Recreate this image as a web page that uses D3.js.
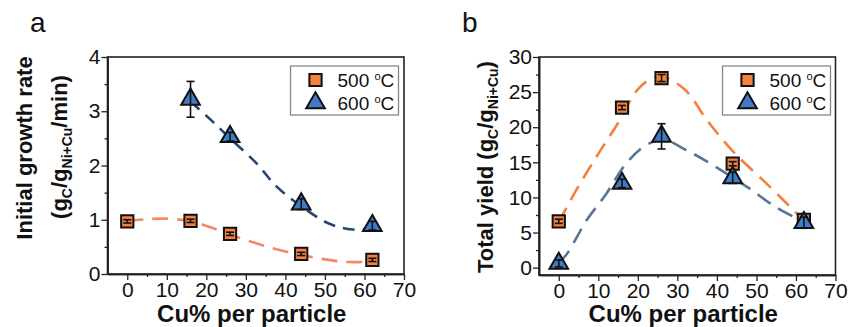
<!DOCTYPE html>
<html>
<head>
<meta charset="utf-8">
<script src="https://cdn.jsdelivr.net/npm/d3@7"></script>
<style>
  body { margin: 0; background: #fff; }
  text { font-family: "Liberation Sans", Arial, sans-serif; fill: #111; }
</style>
</head>
<body>
<svg id="chart" width="848" height="327"></svg>
<script>
// Data
const cuPct = [0, 16, 26, 44, 62];
const cuPct600a = [16, 26, 44, 62];

// panel a: initial growth rate
const rate500 = [0.97, 0.98, 0.74, 0.37, 0.26];
const rate500Err = [0.03, 0.03, 0.03, 0.03, 0.03];
const rate600 = [3.22, 2.53, 1.29, 0.89];
const rate600Err = [0.33, 0.08, 0.1, 0.08];
const rateFit500 = [[0, 0.98], [5, 1.01], [10, 1.02], [16, 0.97], [21, 0.86], [26, 0.73], [32, 0.58], [38, 0.45], [44, 0.35], [50, 0.27], [56, 0.22], [62, 0.23]];
const rateFit600 = [[16, 3.18], [21, 2.85], [26, 2.5], [32.7, 2.04], [37.8, 1.61], [44, 1.25], [51, 0.93], [57, 0.82], [62, 0.84]];

// panel b: total yield
const yield500 = [6.6, 22.8, 27.0, 14.8, 6.8];
const yield500Err = [0.3, 0.3, 0.5, 0.3, 0.3];
const yield600 = [0.6, 12.0, 18.7, 12.8, 6.4];
const yield600Err = [0.5, 0.6, 1.8, 0.8, 0.8];
const yieldFit500 = [[0, 6.5], [5, 11.6], [10, 16.2], [15, 20.6], [20, 25.4], [24, 27.1], [26, 27.3], [32, 25.3], [37.5, 21], [44, 16.6], [52.7, 11.9], [59.5, 8.1], [62, 6.7]];
const yieldFit600 = [[0, 0.7], [2, 1.9], [7, 6.7], [12, 10.5], [17, 14.8], [22, 17.4], [26.5, 18.2], [32.4, 16.7], [39, 14.6], [47.6, 11.5], [55, 8.6], [62, 6.5]];

const xTicks = [0, 10, 20, 30, 40, 50, 60, 70];
const xMinor = [5, 15, 25, 35, 45, 55, 65];
const yTicksA = [0, 1, 2, 3, 4];
const yMinorA = [0.5, 1.5, 2.5, 3.5];
const yTicksB = [0, 5, 10, 15, 20, 25, 30];
const yMinorB = [2.5, 7.5, 12.5, 17.5, 22.5, 27.5];
const legendLabels = ["500 ", "600 "];

const ORANGE = "#f4813f";
const BLUE = "#3f7cc6";

const svg = d3.select("#chart");

function drawPanel(opt) {
  const x = d3.scaleLinear().domain([-5, 70]).range([opt.left, opt.right]);
  const y = d3.scaleLinear().domain(opt.yDomain).range([opt.bottom, opt.top]);
  const g = svg.append("g");

  // frame
  g.append("rect")
    .attr("x", opt.left).attr("y", opt.top)
    .attr("width", opt.right - opt.left).attr("height", opt.bottom - opt.top)
    .attr("fill", "none").attr("stroke", "#222").attr("stroke-width", 1.6);

  // axes
  g.append("g").attr("transform", `translate(0,${opt.bottom})`)
    .call(d3.axisBottom(x).tickValues(xTicks).tickSize(6).tickSizeOuter(0).tickPadding(2).tickFormat(d3.format("d")));
  g.append("g").attr("transform", `translate(0,${opt.bottom})`)
    .call(d3.axisBottom(x).tickValues(xMinor).tickSize(3).tickSizeOuter(0).tickFormat(""));
  g.append("g").attr("transform", `translate(${opt.left},0)`)
    .call(d3.axisLeft(y).tickValues(opt.yTicks).tickSize(6).tickSizeOuter(0).tickPadding(1).tickFormat(d3.format("d")));
  g.append("g").attr("transform", `translate(${opt.left},0)`)
    .call(d3.axisLeft(y).tickValues(opt.yMinor).tickSize(3).tickSizeOuter(0).tickFormat(""));

  g.selectAll(".domain").attr("stroke", "#222").attr("stroke-width", 1.6);
  g.selectAll(".tick line").attr("stroke", "#222").attr("stroke-width", 1.3);
  g.selectAll(".tick text").attr("font-size", 21).attr("fill", "#1a1a1a")
    .style("font-family", "'Liberation Sans', Arial, sans-serif");

  // fitted dashed curves
  const line = d3.line().x(d => x(d[0])).y(d => y(d[1])).curve(d3.curveCatmullRom);
  g.append("path").datum(opt.fit500).attr("d", line)
    .attr("fill", "none").attr("stroke", opt.c500).attr("stroke-width", 2.6)
    .attr("stroke-dasharray", "16,9");
  g.append("path").datum(opt.fit600).attr("d", line)
    .attr("fill", "none").attr("stroke", opt.c600).attr("stroke-width", 2.6)
    .attr("stroke-dasharray", opt.dash600);

  // error bars + markers
  function errBars(xs, ys, es) {
    const eb = g.append("g").selectAll("g").data(xs).enter().append("g");
    eb.append("line")
      .attr("x1", (d) => x(d)).attr("x2", (d) => x(d))
      .attr("y1", (d, i) => y(ys[i] - es[i])).attr("y2", (d, i) => y(ys[i] + es[i]))
      .attr("stroke", "#111").attr("stroke-width", 1.6);
    [-1, 1].forEach(s => {
      eb.append("line")
        .attr("x1", (d) => x(d) - 4).attr("x2", (d) => x(d) + 4)
        .attr("y1", (d, i) => y(ys[i] + s * es[i])).attr("y2", (d, i) => y(ys[i] + s * es[i]))
        .attr("stroke", "#111").attr("stroke-width", 1.6);
    });
  }

  const sq = d3.symbol().type(d3.symbolSquare).size(150);
  const tri = d3.symbol().type(d3.symbolTriangle).size(150);

  g.append("g").selectAll("path").data(opt.x500).enter().append("path")
    .attr("d", sq)
    .attr("transform", (d, i) => `translate(${x(d)},${y(opt.y500[i])})`)
    .attr("fill", ORANGE).attr("stroke", "#111").attr("stroke-width", 2);
  errBars(opt.x500, opt.y500, opt.e500);

  g.append("g").selectAll("path").data(opt.x600).enter().append("path")
    .attr("d", tri)
    .attr("transform", (d, i) => `translate(${x(d)},${y(opt.y600[i])})`)
    .attr("fill", BLUE).attr("stroke", "#111").attr("stroke-width", 2);
  errBars(opt.x600, opt.y600, opt.e600);

  // legend
  const lg = g.append("g").attr("transform", `translate(${opt.legX},66)`);
  lg.append("rect").attr("width", 108).attr("height", 49)
    .attr("fill", "#fff").attr("stroke", "#888").attr("stroke-width", 1.3);
  lg.append("path").attr("d", sq).attr("transform", "translate(25,14)")
    .attr("fill", ORANGE).attr("stroke", "#111").attr("stroke-width", 2);
  lg.append("path").attr("d", tri).attr("transform", "translate(25,37)")
    .attr("fill", BLUE).attr("stroke", "#111").attr("stroke-width", 2);
  legendLabels.forEach((lab, i) => {
    const t = lg.append("text").attr("x", 47).attr("y", 21 + i * 23).attr("font-size", 19);
    t.append("tspan").text(lab);
    t.append("tspan").attr("font-size", 11).attr("dy", -7).text("o");
    t.append("tspan").attr("dy", 7).text("C");
  });

  // x label
  g.append("text")
    .attr("x", (opt.left + opt.right) / 2 - 4).attr("y", 322)
    .attr("text-anchor", "middle").attr("font-size", 24).attr("font-weight", "bold")
    .text("Cu% per particle");

  // panel letter
  g.append("text").attr("x", opt.letterX).attr("y", 32)
    .attr("font-size", 28).text(opt.letter);
}

// text with subscripts: the shift is carried by the next tspan
function subText(sel, parts, size, subSize) {
  let shift = 0;
  parts.forEach(p => {
    const isSub = !!p.sub;
    const want = isSub ? 5 : 0;
    sel.append("tspan")
      .attr("font-size", isSub ? subSize : size)
      .attr("dy", want - shift)
      .text(isSub ? p.sub : p.t);
    shift = want;
  });
}

drawPanel({
  left: 107.5, right: 404, top: 57, bottom: 274,
  yDomain: [0, 4], yTicks: yTicksA, yMinor: yMinorA,
  x500: cuPct, y500: rate500, e500: rate500Err,
  x600: cuPct600a, y600: rate600, e600: rate600Err,
  fit500: rateFit500, fit600: rateFit600,
  c500: "#f08a62", c600: "#26466e", dash600: "12,8",
  legX: 290.5, letter: "a", letterX: 30
});

drawPanel({
  left: 539, right: 835.5, top: 57, bottom: 275,
  yDomain: [-1.05, 30], yTicks: yTicksB, yMinor: yMinorB,
  x500: cuPct, y500: yield500, e500: yield500Err,
  x600: cuPct, y600: yield600, e600: yield600Err,
  fit500: yieldFit500, fit600: yieldFit600,
  c500: "#f4803f", c600: "#5a7495", dash600: "16,9",
  legX: 722.5, letter: "b", letterX: 462
});

// y labels
svg.append("text").attr("transform", "translate(32,148) rotate(-90)")
  .attr("text-anchor", "middle").attr("font-weight", "bold").attr("font-size", 22)
  .text("Initial growth rate");
const ya2 = svg.append("text").attr("transform", "translate(67,147) rotate(-90)")
  .attr("text-anchor", "middle").attr("font-weight", "bold").attr("font-size", 22);
subText(ya2, [{t: "(g"}, {sub: "C"}, {t: "/g"}, {sub: "Ni+Cu"}, {t: "/min)"}], 22, 14);

const yb = svg.append("text").attr("transform", "translate(493,167) rotate(-90)")
  .attr("text-anchor", "middle").attr("font-weight", "bold").attr("font-size", 22);
subText(yb, [{t: "Total yield (g"}, {sub: "C"}, {t: "/g"}, {sub: "Ni+Cu"}, {t: ")"}], 22, 14);
</script>
</body>
</html>
